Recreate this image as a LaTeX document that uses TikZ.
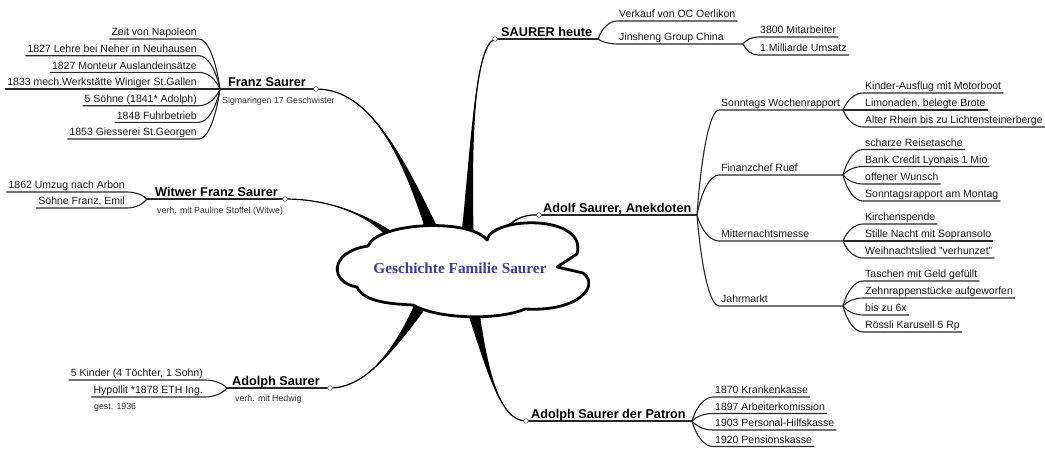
\documentclass[tikz,border=0pt]{standalone}
\usepackage{fontspec}
\setmainfont{Liberation Sans}
\newfontfamily\ttlfont{Liberation Serif}
\usetikzlibrary{calc}
\definecolor{ttlblue}{RGB}{60,60,165}
\definecolor{lncol}{RGB}{40,40,40}
\newcommand\fsreg{\fontsize{10.5}{12}\selectfont}
\newcommand\fsbig{\bfseries\fontsize{12.7}{15}\selectfont}
\newcommand\fsnote{\fontsize{8.8}{10}\selectfont}
\newcommand\mbranch[6]{%
  \fill[black] (#1) .. controls #2 and #3 .. #4 -- #5 .. controls #3 and #2 .. (#1) -- cycle;
  \draw[line width=1.2pt] (#1) .. controls #2 and #3 .. #6;
}
\begin{document}
\begin{tikzpicture}[x=1pt,y=-1pt,
  ln/.style={draw=lncol, line width=1.1pt},
  leafL/.style={anchor=south east, font=\fsreg, inner xsep=2pt, inner ysep=0.5pt, text depth=2.5pt, text height=8pt, text=black!90},
  leafR/.style={leafL, anchor=south west},
  mainlbl/.style={anchor=base west, font=\fsbig, inner sep=0pt},
  notelbl/.style={anchor=base west, font=\fsnote, inner sep=0pt, text=black!80},
  dot/.style={circle, draw=black!60, fill=white, line width=0.6pt, minimum size=4.6pt, inner sep=0pt},
  br/.style={to path={let \p1=(\tikztostart), \p2=(\tikztotarget) in
    .. controls ({\x1+0.2*(\x2-\x1)},{\y1+0.6*(\y2-\y1)}) and ({\x1+0.6*(\x2-\x1)},\y2) .. (\tikztotarget)}},
]
\fill[white] (0,0) rectangle (1045,453);
\useasboundingbox (0,0) rectangle (1045,453);

% ---------- main branch ends ----------
\coordinate (C1) at (316,89);  \coordinate (J1) at (220,89);
\coordinate (C2) at (285,199); \coordinate (J2) at (147,199);
\coordinate (C3) at (330,388); \coordinate (J3) at (227,388);
\coordinate (C4) at (495,39);  \coordinate (J4) at (598,39);
\coordinate (C5) at (539,215); \coordinate (J6) at (697,215);
\coordinate (C6) at (526,421); \coordinate (J11) at (692,421);

% tapered main branches
\mbranch{C1}{(372,89)}{(405,160)}{(431,248)}{(445,243)}{(438,246)}
\mbranch{C4}{(474,46)}{(471,150)}{(460,248)}{(474,248)}{(467,248)}
\mbranch{C2}{(330,199)}{(375,215)}{(402,254)}{(411,246)}{(406,250)}
\mbranch{C5}{(520,214)}{(505,222)}{(490,246)}{(502,250)}{(496,248)}
\mbranch{C3}{(368,388)}{(398,345)}{(420,292)}{(432,300)}{(426,296)}
\mbranch{C6}{(500,421)}{(487,372)}{(463,298)}{(477,294)}{(470,296)}

% ---------- central cloud ----------
\filldraw[fill=white, draw=black, line width=2.8pt, line join=round]
  (368,246) .. controls (378,222) and (470,218) .. (487,240)
  .. controls (492,216) and (588,214) .. (577,254)
  -- (557,267) -- (583,273)
  .. controls (600,285) and (580,312) .. (525,309)
  .. controls (500,320) and (440,320) .. (413,305)
  .. controls (395,304) and (364,303) .. (357,287)
  .. controls (330,283) and (328,252) .. (368,246) -- cycle;
\node[font=\ttlfont\bfseries\fontsize{15.3}{18}\selectfont, text=ttlblue, inner sep=0pt] (root) at (460,268) {Geschichte Familie Saurer};

% ---------- Franz Saurer ----------
\node[mainlbl] (franz) at (228,86) {Franz Saurer};
\node[notelbl] (sigm) at (222,103.5) {Sigmaringen 17 Geschwister};
\node[leafL] (f1) at (199,39) {Zeit von Napoleon};
\node[leafL] (f2) at (199,55.7) {1827 Lehre bei Neher in Neuhausen};
\node[leafL] (f3) at (199,72.3) {1827 Monteur Auslandeinsätze};
\node[leafL] (f4) at (199,89) {1833 mech.Werkstätte Winiger St.Gallen};
\node[leafL] (f5) at (199,105.7) {5 Söhne (1841* Adolph)};
\node[leafL] (f6) at (199,122.3) {1848 Fuhrbetrieb};
\node[leafL] (f7) at (199,139) {1853 Giesserei St.Georgen};
\draw[ln] (C1) -- (J1);
\foreach \q in {f1,f2,f3,f4,f5,f6,f7}
  \draw[ln] (J1) to[br] (\q.south east) -- (\q.south west);

% ---------- Witwer Franz Saurer ----------
\node[mainlbl] (witwer) at (155,196) {Witwer Franz Saurer};
\node[notelbl] (pauline) at (157,213) {verh. mit Pauline Stoffel (Witwe)};
\node[leafL] (w1) at (127,192) {1862 Umzug nach Arbon};
\node[leafL] (w2) at (127,208) {Söhne Franz, Emil};
\draw[ln] (C2) -- (J2);
\foreach \q in {w1,w2}
  \draw[ln] (J2) to[br] (\q.south east) -- (\q.south west);

% ---------- Adolph Saurer ----------
\node[mainlbl] (adolph) at (232,385) {Adolph Saurer};
\node[notelbl] (hedwig) at (235,401.5) {verh. mit Hedwig};
\node[leafL] (a1) at (205,380) {5 Kinder (4 Töchter, 1 Sohn)};
\node[leafL] (a2) at (205,397) {Hypollit *1878 ETH Ing.};
\node[notelbl] (gest) at (94,409.5) {gest. 1936};
\draw[ln] (C3) -- (J3);
\foreach \q in {a1,a2}
  \draw[ln] (J3) to[br] (\q.south east) -- (\q.south west);

% ---------- SAURER heute ----------
\node[mainlbl] (heute) at (501,36) {SAURER heute};
\coordinate (J5) at (743,44);
\node[leafR] (s1) at (617,21) {Verkauf von OC Oerlikon};
\node[leafR] (s2) at (617,44) {Jinsheng Group China};
\node[leafR] (s3) at (758,37) {3800 Mitarbeiter};
\node[leafR] (s4) at (758,55) {1 Milliarde Umsatz};
\draw[ln] (C4) -- (J4);
\draw[ln] (J4) to[br] (s1.south west) -- (s1.south east);
\draw[ln] (J4) to[br] (s2.south west) -- (J5);
\foreach \q in {s3,s4}
  \draw[ln] (J5) to[br] (\q.south west) -- (\q.south east);

% ---------- Adolf Saurer, Anekdoten ----------
\node[mainlbl] (anek) at (543,212) {Adolf Saurer, Anekdoten};
\draw[ln] (C5) -- (J6);
\coordinate (J7) at (843,110);
\coordinate (J8) at (843,175);
\coordinate (J9) at (843,241);
\coordinate (J10) at (843,306);
\node[leafR] (k1) at (719,110) {Sonntags Wochenrapport};
\node[leafR] (k2) at (719,175) {Finanzchef Ruef};
\node[leafR] (k3) at (719,241) {Mitternachtsmesse};
\node[leafR] (k4) at (719,306) {Jahrmarkt};
\draw[ln] (J6) to[br] (k1.south west) -- (J7);
\draw[ln] (J6) to[br] (k2.south west) -- (J8);
\draw[ln] (J6) to[br] (k3.south west) -- (J9);
\draw[ln] (J6) to[br] (k4.south west) -- (J10);

\node[leafR] (l11) at (863,93) {Kinder-Ausflug mit Motorboot};
\node[leafR] (l12) at (863,110) {Limonaden, belegte Brote};
\node[leafR] (l13) at (863,127) {Alter Rhein bis zu Lichtensteinerberge};
\foreach \q in {l11,l12,l13}
  \draw[ln] (J7) to[br] (\q.south west) -- (\q.south east);

\node[leafR] (l21) at (863,149.5) {scharze Reisetasche};
\node[leafR] (l22) at (863,166.5) {Bank Credit Lyonais 1 Mio};
\node[leafR] (l23) at (863,184) {offener Wunsch};
\node[leafR] (l24) at (863,201) {Sonntagsrapport am Montag};
\foreach \q in {l21,l22,l23,l24}
  \draw[ln] (J8) to[br] (\q.south west) -- (\q.south east);

\node[leafR] (l31) at (863,224) {Kirchenspende};
\node[leafR] (l32) at (863,241) {Stille Nacht mit Sopransolo};
\node[leafR] (l33) at (863,258) {Weihnachtslied "verhunzet"};
\foreach \q in {l31,l32,l33}
  \draw[ln] (J9) to[br] (\q.south west) -- (\q.south east);

\node[leafR] (l41) at (863,281) {Taschen mit Geld gefüllt};
\node[leafR] (l42) at (863,298) {Zehnrappenstücke aufgeworfen};
\node[leafR] (l43) at (863,315) {bis zu 6x};
\node[leafR] (l44) at (863,332) {Rössli Karusell 5 Rp};
\foreach \q in {l41,l42,l43,l44}
  \draw[ln] (J10) to[br] (\q.south west) -- (\q.south east);

% ---------- Adolph Saurer der Patron ----------
\node[mainlbl] (patron) at (531,418) {Adolph Saurer der Patron};
\draw[ln] (C6) -- (J11);
\node[leafR] (p1) at (713,397) {1870 Krankenkasse};
\node[leafR] (p2) at (713,413.5) {1897 Arbeiterkomission};
\node[leafR] (p3) at (713,430) {1903 Personal-Hilfskasse};
\node[leafR] (p4) at (713,446.5) {1920 Pensionskasse};
\foreach \q in {p1,p2,p3,p4}
  \draw[ln] (J11) to[br] (\q.south west) -- (\q.south east);

% ---------- end dots ----------
\foreach \c in {C1,C2,C3,C4,C5,C6}
  \node[dot] (d\c) at (\c) {};
\end{tikzpicture}
\end{document}
